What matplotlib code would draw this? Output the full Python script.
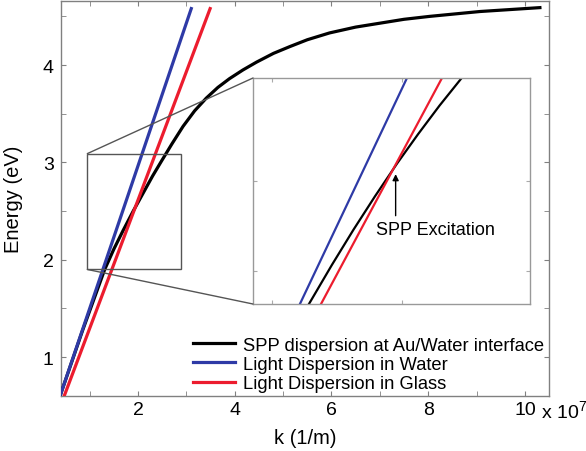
import matplotlib
matplotlib.use("Agg")
import matplotlib.pyplot as plt
from matplotlib.patches import Rectangle, ConnectionPatch
from matplotlib.ticker import MultipleLocator, FixedLocator, NullFormatter

plt.rcParams['font.family'] = ['Liberation Sans', 'DejaVu Sans']
plt.rcParams['mathtext.fontset'] = 'custom'
plt.rcParams['mathtext.rm'] = 'Liberation Sans'

# main plot data (k in 1e7 1/m, energy in eV)
k_water = [0.40, 3.10]
e_water = [0.62, 4.58]
k_glass = [0.48, 3.49]
e_glass = [0.61, 4.58]
k_spp = [0.40, 0.85, 1.31, 1.50, 1.69, 1.90, 2.10, 2.30, 2.48, 2.70, 2.93, 3.17,
         3.41, 3.65, 3.89, 4.17, 4.45, 4.80, 5.14, 5.50, 5.96, 6.50, 7.00, 7.50,
         8.03, 9.07, 10.31]
e_spp = [0.62, 1.27, 1.90, 2.11, 2.30, 2.50, 2.68, 2.86, 3.01, 3.19, 3.37, 3.53,
         3.66, 3.77, 3.86, 3.95, 4.03, 4.12, 4.19, 4.26, 4.33, 4.39, 4.43, 4.47,
         4.50, 4.55, 4.59]

# zoomed inset data
ik_water = [1.277, 2.023]
ie_water = [1.90, 3.09]
ik_glass = [1.424, 2.267]
ie_glass = [1.90, 3.09]
ik_spp = [1.340, 1.50, 1.65, 1.80, 1.955, 2.10, 2.25, 2.404]
ie_spp = [1.900, 2.106, 2.291, 2.467, 2.641, 2.794, 2.945, 3.090]

zoom_x = (0.95, 2.88)
zoom_y = (1.90, 3.09)

BLUE = '#2e3aa6'
RED = '#ec1c2e'
GREY = '#808080'

fig = plt.figure(figsize=(5.86, 4.52), dpi=100)
ax = fig.add_axes([0.1036, 0.1217, 0.8334, 0.8743])

ax.plot(k_spp, e_spp, color='k', lw=2.3, label='SPP dispersion at Au/Water interface', zorder=3)
ax.plot(k_water, e_water, color=BLUE, lw=2.3, label='Light Dispersion in Water', zorder=3)
ax.plot(k_glass, e_glass, color=RED, lw=2.3, label='Light Dispersion in Glass', zorder=3)

ax.set_xlim(0.40, 10.5)
ax.set_ylim(0.60, 4.66)
ax.xaxis.set_major_locator(MultipleLocator(2))
ax.xaxis.set_minor_locator(MultipleLocator(1))
ax.yaxis.set_major_locator(MultipleLocator(1))
ax.yaxis.set_minor_locator(MultipleLocator(0.5))
ax.tick_params(which='both', direction='in', top=True, right=True, length=3.5,
               color=GREY, labelsize=14)
ax.tick_params(axis='y', pad=5)
for s in ax.spines.values():
    s.set_color(GREY)
    s.set_linewidth(1.0)

ax.set_xlabel('k (1/m)', fontsize=14.5, labelpad=7)
ax.set_ylabel('Energy (eV)', fontsize=14.5, labelpad=14)
fig.text(0.923, 0.073, 'x 10$^{7}$', fontsize=14, ha='left', va='baseline')

ax.legend(loc='lower left', bbox_to_anchor=(0.271, 0.01), frameon=False, fontsize=13.2,
          handlelength=2.3, handletextpad=0.45, labelspacing=0.12, borderpad=0,
          borderaxespad=0)

# zoom rectangle
ax.add_patch(Rectangle((zoom_x[0], zoom_y[0]), zoom_x[1] - zoom_x[0], zoom_y[1] - zoom_y[0],
                       fill=False, edgecolor='#555555', lw=1.0, zorder=4))

# inset
axi = fig.add_axes([0.4317, 0.3252, 0.4727, 0.5])
axi.plot(ik_spp, ie_spp, color='k', lw=1.6)
axi.plot(ik_water, ie_water, color=BLUE, lw=1.6)
axi.plot(ik_glass, ie_glass, color=RED, lw=1.6)
axi.set_xlim(*zoom_x)
axi.set_ylim(*zoom_y)
axi.xaxis.set_major_locator(FixedLocator([1.082, 1.988]))
axi.yaxis.set_major_locator(FixedLocator([2.074, 2.548]))
axi.xaxis.set_major_formatter(NullFormatter())
axi.yaxis.set_major_formatter(NullFormatter())
axi.tick_params(direction='in', top=True, right=True, length=3, color='#aaaaaa')
for s in axi.spines.values():
    s.set_color('#999999')
    s.set_linewidth(1.0)

axi.annotate('', xy=(1.944, 2.584), xytext=(1.944, 2.365),
             arrowprops=dict(arrowstyle='-|>', color='k', lw=1.0, mutation_scale=9,
                             shrinkA=0, shrinkB=0))
axi.text(2.218, 2.291, 'SPP Excitation', fontsize=13, ha='center', va='center')

# connector lines from the rectangle to the inset
for ya, yb in [(zoom_y[1], 1.0), (zoom_y[0], 0.0)]:
    con = ConnectionPatch(xyA=(zoom_x[0], ya), coordsA=ax.transData,
                          xyB=(0.0, yb), coordsB=axi.transAxes,
                          color='#555555', lw=1.0)
    fig.add_artist(con)

fig.savefig('out.png', dpi=100)
